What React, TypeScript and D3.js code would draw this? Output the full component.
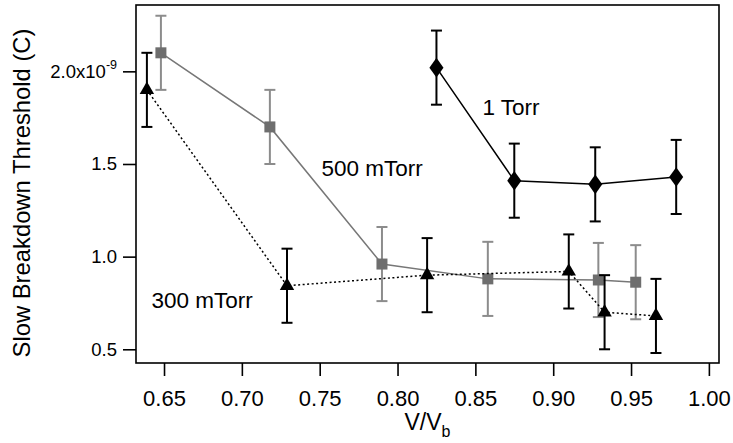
import React, { useEffect, useRef } from "react";
import * as d3 from "d3";

// V/Vb and threshold values (x1e-9 C)
const torr1X = [0.825, 0.875, 0.927, 0.979];
const torr1Y = [2.02, 1.41, 1.39, 1.43];
const torr1Err = [0.2, 0.2, 0.2, 0.2];

const mtorr500X = [0.648, 0.718, 0.79, 0.858, 0.929, 0.953];
const mtorr500Y = [2.1, 1.7, 0.96, 0.88, 0.874, 0.862];
const mtorr500Err = [0.2, 0.2, 0.2, 0.2, 0.2, 0.2];

const mtorr300X = [0.639, 0.729, 0.819, 0.91, 0.933, 0.966];
const mtorr300Y = [1.9, 0.843, 0.9, 0.92, 0.7, 0.68];
const mtorr300Err = [0.2, 0.2, 0.2, 0.2, 0.2, 0.2];

const xTicks = [0.65, 0.7, 0.75, 0.8, 0.85, 0.9, 0.95, 1.0];
const yTicks = [0.5, 1.0, 1.5, 2.0];

const FONT = "'Liberation Sans', Arial, sans-serif";

function App() {
  const myRef = useRef<SVGSVGElement>(null);

  useEffect(() => {
    const width = 733,
      height = 443;
    const margin = { top: 5, right: 14, bottom: 80, left: 136 };

    const svg = d3.select(myRef.current);
    svg.selectAll("*").remove();

    const x = d3.scaleLinear().domain([0.632, 1.0065]).range([margin.left, width - margin.right]);
    const y = d3.scaleLinear().domain([0.426, 2.358]).range([height - margin.bottom, margin.top]);

    const line = d3
      .line<[number, number]>()
      .x((d) => x(d[0]))
      .y((d) => y(d[1]));

    const series = [
      {
        xs: mtorr500X, ys: mtorr500Y, err: mtorr500Err,
        lineColor: "#777777", errColor: "#8c8c8c", markColor: "#6e6e6e",
        dash: null, shape: d3.symbolSquare, size: 121,
      },
      {
        xs: mtorr300X, ys: mtorr300Y, err: mtorr300Err,
        lineColor: "#000", errColor: "#000", markColor: "#000",
        dash: "2 2.5", shape: d3.symbolTriangle, size: 90,
      },
      {
        xs: torr1X, ys: torr1Y, err: torr1Err,
        lineColor: "#000", errColor: "#000", markColor: "#000",
        dash: null, shape: d3.symbolDiamond, size: 110,
      },
    ];

    series.forEach((s) => {
      const pts: [number, number][] = s.xs.map((v, i) => [v, s.ys[i]]);
      const g = svg.append("g");

      g.append("path")
        .attr("d", line(pts))
        .attr("fill", "none")
        .attr("stroke", s.lineColor)
        .attr("stroke-width", 1.5)
        .attr("stroke-dasharray", s.dash);

      const eb = g.selectAll(".eb").data(pts).enter().append("g");
      eb.append("line")
        .attr("x1", (d) => x(d[0]))
        .attr("x2", (d) => x(d[0]))
        .attr("y1", (d, i) => y(d[1] + s.err[i]))
        .attr("y2", (d, i) => y(d[1] - s.err[i]))
        .attr("stroke", s.errColor)
        .attr("stroke-width", 2);
      [1, -1].forEach((sign) => {
        eb.append("line")
          .attr("x1", (d) => x(d[0]) - 5.5)
          .attr("x2", (d) => x(d[0]) + 5.5)
          .attr("y1", (d, i) => y(d[1] + sign * s.err[i]))
          .attr("y2", (d, i) => y(d[1] + sign * s.err[i]))
          .attr("stroke", s.errColor)
          .attr("stroke-width", 2);
      });

      g.selectAll(".mk")
        .data(pts)
        .enter()
        .append("path")
        .attr("d", d3.symbol().type(s.shape).size(s.size)())
        .attr("transform", (d) =>
          s.shape === d3.symbolDiamond
            ? `translate(${x(d[0])},${y(d[1])}) scale(1.25,1)`
            : `translate(${x(d[0])},${y(d[1])})`
        )
        .attr("fill", s.markColor);
    });

    // frame
    svg.append("rect")
      .attr("x", x.range()[0])
      .attr("y", y.range()[1])
      .attr("width", x.range()[1] - x.range()[0])
      .attr("height", y.range()[0] - y.range()[1])
      .attr("fill", "none")
      .attr("stroke", "#000")
      .attr("stroke-width", 1.6);

    // x axis
    const xg = svg.append("g").attr("transform", `translate(0,${y.range()[0]})`);
    xg.call(d3.axisBottom(x).tickValues(xTicks).tickSize(13).tickSizeOuter(0).tickFormat(d3.format(".2f")));
    xg.select(".domain").remove();
    xg.selectAll(".tick line").attr("stroke-width", 1.6);
    xg.selectAll(".tick text")
      .attr("font-family", FONT)
      .attr("font-size", 22)
      .attr("fill", "#000")
      .attr("dy", null)
      .attr("y", 43);

    // y axis
    const yg = svg.append("g").attr("transform", `translate(${x.range()[0]},0)`);
    yg.call(d3.axisLeft(y).tickValues(yTicks).tickSize(13).tickSizeOuter(0).tickFormat(() => ""));
    yg.select(".domain").remove();
    yg.selectAll(".tick line").attr("stroke-width", 1.6);
    yTicks.forEach((v) => {
      const t = yg.append("text")
        .attr("x", -19)
        .attr("y", y(v) + 6.5)
        .attr("text-anchor", "end")
        .attr("font-family", FONT)
        .attr("font-size", 18.5)
        .attr("fill", "#000");
      if (v === 2.0) {
        t.append("tspan").text("2.0x10");
        t.append("tspan").attr("font-size", 12.5).attr("dy", -9).text("-9");
      } else {
        t.text(d3.format(".1f")(v));
      }
    });

    // axis titles
    const xt = svg.append("text")
      .attr("x", (x.range()[0] + x.range()[1]) / 2)
      .attr("y", 430)
      .attr("text-anchor", "middle")
      .attr("font-family", FONT)
      .attr("font-size", 23);
    xt.append("tspan").text("V/V");
    xt.append("tspan").attr("font-size", 16).attr("dy", 7).text("b");

    svg.append("text")
      .attr("transform", "translate(30,193) rotate(-90)")
      .attr("text-anchor", "middle")
      .attr("font-family", FONT)
      .attr("font-size", 23.8)
      .text("Slow Breakdown Threshold (C)");

    // series labels
    const labels: [string, number, number][] = [
      ["1 Torr", 482.5, 115],
      ["500 mTorr", 321.5, 175.5],
      ["300 mTorr", 151.5, 308],
    ];
    svg.selectAll(".lbl")
      .data(labels)
      .enter()
      .append("text")
      .attr("x", (d) => d[1])
      .attr("y", (d) => d[2])
      .attr("font-family", FONT)
      .attr("font-size", 22.5)
      .text((d) => d[0]);
  }, []);

  return (
    <svg
      ref={myRef}
      width={733}
      height={443}
      style={{ position: "absolute", left: 0, top: 0, background: "#fff" }}
    />
  );
}

export default App;
